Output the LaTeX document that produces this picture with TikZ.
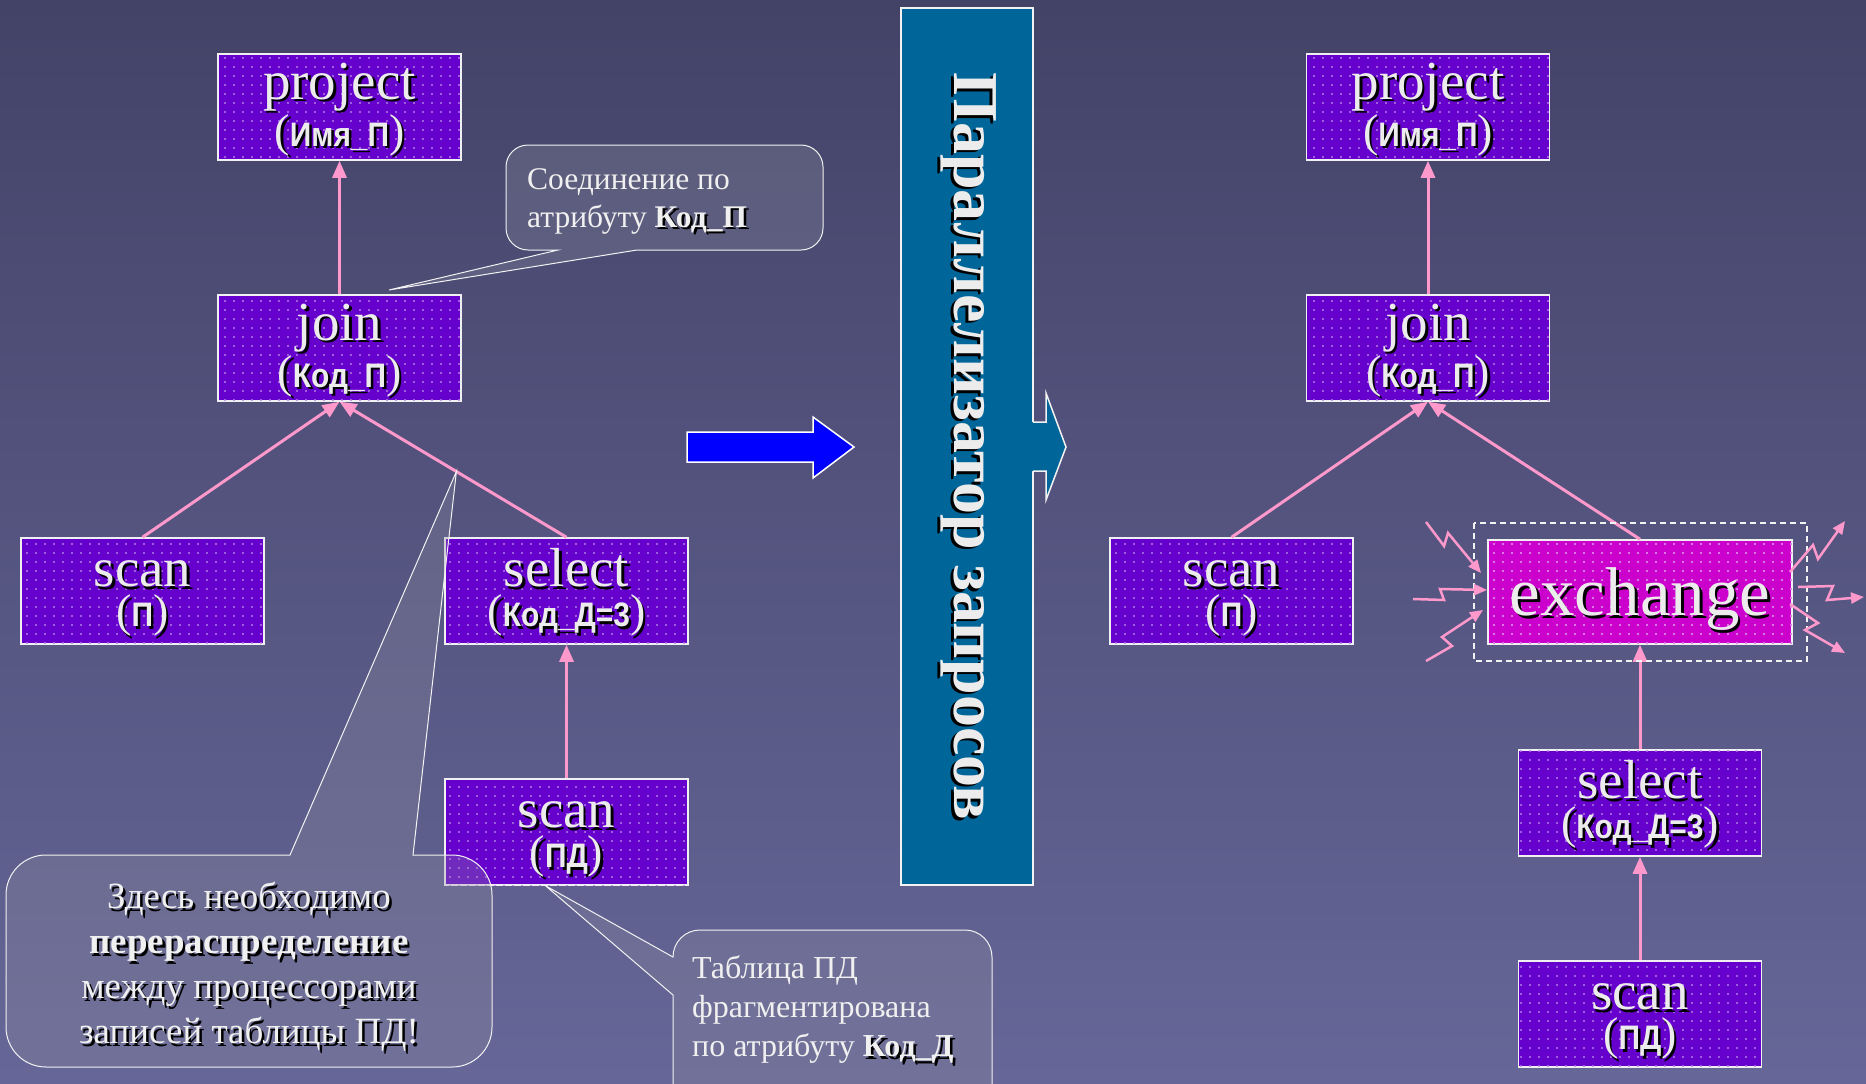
\documentclass[tikz,border=0pt]{standalone}
\usepackage{fontspec}
\setmainfont{Liberation Serif}
\setsansfont{Liberation Sans}
\usetikzlibrary{arrows.meta,patterns.meta}
\definecolor{bgtop}{RGB}{67,67,104}
\definecolor{bgbot}{RGB}{102,102,152}
\definecolor{opviolet}{RGB}{102,0,204}
\definecolor{exmag}{RGB}{204,0,204}
\definecolor{edgepink}{RGB}{255,153,204}
\definecolor{parblue}{RGB}{0,102,153}
\definecolor{txtgray}{RGB}{236,236,236}
\definecolor{notefill}{RGB}{140,140,160}
\newcommand\shtxt[1]{\rlap{\kern2.5pt\raisebox{-2.5pt}{\color{black}#1}}#1}
\newcommand\optitle[2]{\rule{0pt}{44pt}\shtxt{#1}\\\shtxt{\fontsize{46}{40}\selectfont(\scalebox{0.88}[1]{\sffamily\bfseries\fontsize{34}{40}\selectfont#2})}}
\tikzset{
  opbox/.style={draw=white!88!gray, line width=1.5pt, fill=opviolet,
    minimum width=243pt, minimum height=106pt, inner sep=0pt, text=txtgray,
    align=center, font=\fontsize{55}{40}\selectfont,
    postaction={pattern={Dots[distance=9pt,radius=1.1pt]}, pattern color=white!50!opviolet}},
  exbox/.style={opbox, fill=exmag, minimum width=304pt, minimum height=104pt,
    font=\fontsize{69}{60}\selectfont, text depth=0pt,
    postaction={pattern={Dots[distance=9pt,radius=1.1pt]}, pattern color=white!50!exmag}},
  flow/.style={draw=edgepink, line width=3pt, -{Triangle[length=17pt,width=14pt]}},
  spark/.style={draw=edgepink, line width=2.5pt, -{Triangle[length=13pt,width=11pt]}},
  note/.style={draw=white!90!gray, line width=1pt, fill=notefill, fill opacity=0.3},
  notetext/.style={text=white!88!gray, inner sep=0pt}
}
\begin{document}
\begin{tikzpicture}[x=1pt,y=-1pt]
  \useasboundingbox (0,0) rectangle (1866,1084);
  \shade[top color=bgtop, bottom color=bgbot] (0,0) rectangle (1866,1084);

  \node (projL) [opbox] at (339.5,107) {\optitle{project}{Имя\_П}};
  \node (joinL) [opbox] at (339.5,348) {\optitle{join}{Код\_П}};
  \node (scanPL) [opbox] at (142.5,591) {\optitle{scan}{П}};
  \node (selL) [opbox] at (566.5,591) {\optitle{select}{Код\_Д=3}};
  \node (scanPDL) [opbox] at (566.5,832) {\optitle{scan}{ПД}};

  \node (projR) [opbox] at (1428,107) {\optitle{project}{Имя\_П}};
  \node (joinR) [opbox] at (1428,348) {\optitle{join}{Код\_П}};
  \node (scanPR) [opbox] at (1231.5,591) {\optitle{scan}{П}};
  \node (exch) [exbox] at (1640,592) {\shtxt{exchange}};
  \node (selR) [opbox] at (1640,803) {\optitle{select}{Код\_Д=3}};
  \node (scanPDR) [opbox] at (1640,1014) {\optitle{scan}{ПД}};

  \begin{scope}[flow]
    \draw (joinL) to (projL);
    \draw (scanPL.north) to (joinL.south);
    \draw (selL.north) to (joinL.south);
    \draw (scanPDL) to (selL);
    \draw (joinR) to (projR);
    \draw (scanPR.north) to (joinR.south);
    \draw (exch.north) to (joinR.south);
    \draw (selR) to (exch);
    \draw (scanPDR) to (selR);
  \end{scope}

  \draw[white!90!gray, line width=1.5pt, dash pattern=on 6pt off 4pt] (1474,523) rectangle (1807,661);
  \draw[spark] (1426,522) -- (1444,546) -- (1448,533) -- (1481,573);
  \draw[spark] (1413,599) -- (1444,600) -- (1440,589) -- (1487,590);
  \draw[spark] (1426,661) -- (1452,646) -- (1442,637) -- (1483,610);
  \draw[spark] (1790,572) -- (1813,545) -- (1818,559) -- (1845,521);
  \draw[spark] (1798,587) -- (1833,586) -- (1827,600) -- (1864,597);
  \draw[spark] (1790,604) -- (1818,623) -- (1805,630) -- (1845,653);

  \draw[white, line width=1.5pt, fill=blue] (687,432) -- (813,432) -- (813,417) -- (854,447)
    -- (813,478) -- (813,462) -- (687,462) -- cycle;

  \node (par) [draw=white!90!gray, line width=1.5pt, fill=parblue, rotate=-90,
    minimum width=877pt, minimum height=132pt, inner sep=0pt, text=txtgray,
    font=\bfseries\fontsize{64}{64}\selectfont] at (967,446.5) {\shtxt{Параллелизатор запросов}};
  \fill[parblue] (1031,422) -- (1046,422) -- (1046,393) -- (1066,447) -- (1046,500)
    -- (1046,471) -- (1031,471) -- cycle;
  \draw[white!90!gray, line width=1.5pt] (1033,422) -- (1046,422) -- (1046,393) -- (1066,447)
    -- (1046,500) -- (1046,471) -- (1033,471);

  \coordinate (tip1) at (389,290);
  \path (selL.north) -- (joinL.south) coordinate[pos=0.485] (tip2);
  \coordinate (tip3) at ([xshift=-21pt]scanPDL.south);

  \draw[note] (tip1) -- (558,250) [rounded corners=22pt] -- (506,250) -- (506,145)
    -- (823,145) -- (823,250) [sharp corners] -- (637,250) -- cycle;
  \draw[note] (tip2) -- (413,855) [rounded corners=40pt] -- (492,855) -- (492,1067)
    -- (6,1067) -- (6,855) [sharp corners] -- (290,855) -- cycle;
  \draw[note] (tip3) -- (673,957) [rounded corners=27pt] -- (673,930) -- (992,930)
    -- (992,1120) -- (673,1120) [sharp corners] -- (673,995) -- cycle;

  \node (note1) [notetext, anchor=west, align=left, font=\fontsize{31.5}{38}\selectfont]
    at (527,202) {Соединение по\\атрибуту \shtxt{\bfseries Код\_П}};
  \node (note2) [notetext, align=center, font=\fontsize{37}{45}\selectfont]
    at (249,968) {\shtxt{Здесь необходимо}\\\shtxt{\bfseries перераспределение}\\
    \shtxt{между процессорами}\\\shtxt{записей таблицы ПД!}};
  \node (note3) [notetext, anchor=west, align=left, font=\fontsize{32}{39}\selectfont]
    at (692,1011) {Таблица ПД\\фрагментирована\\по атрибуту \shtxt{\bfseries Код\_Д}};
\end{tikzpicture}
\end{document}
